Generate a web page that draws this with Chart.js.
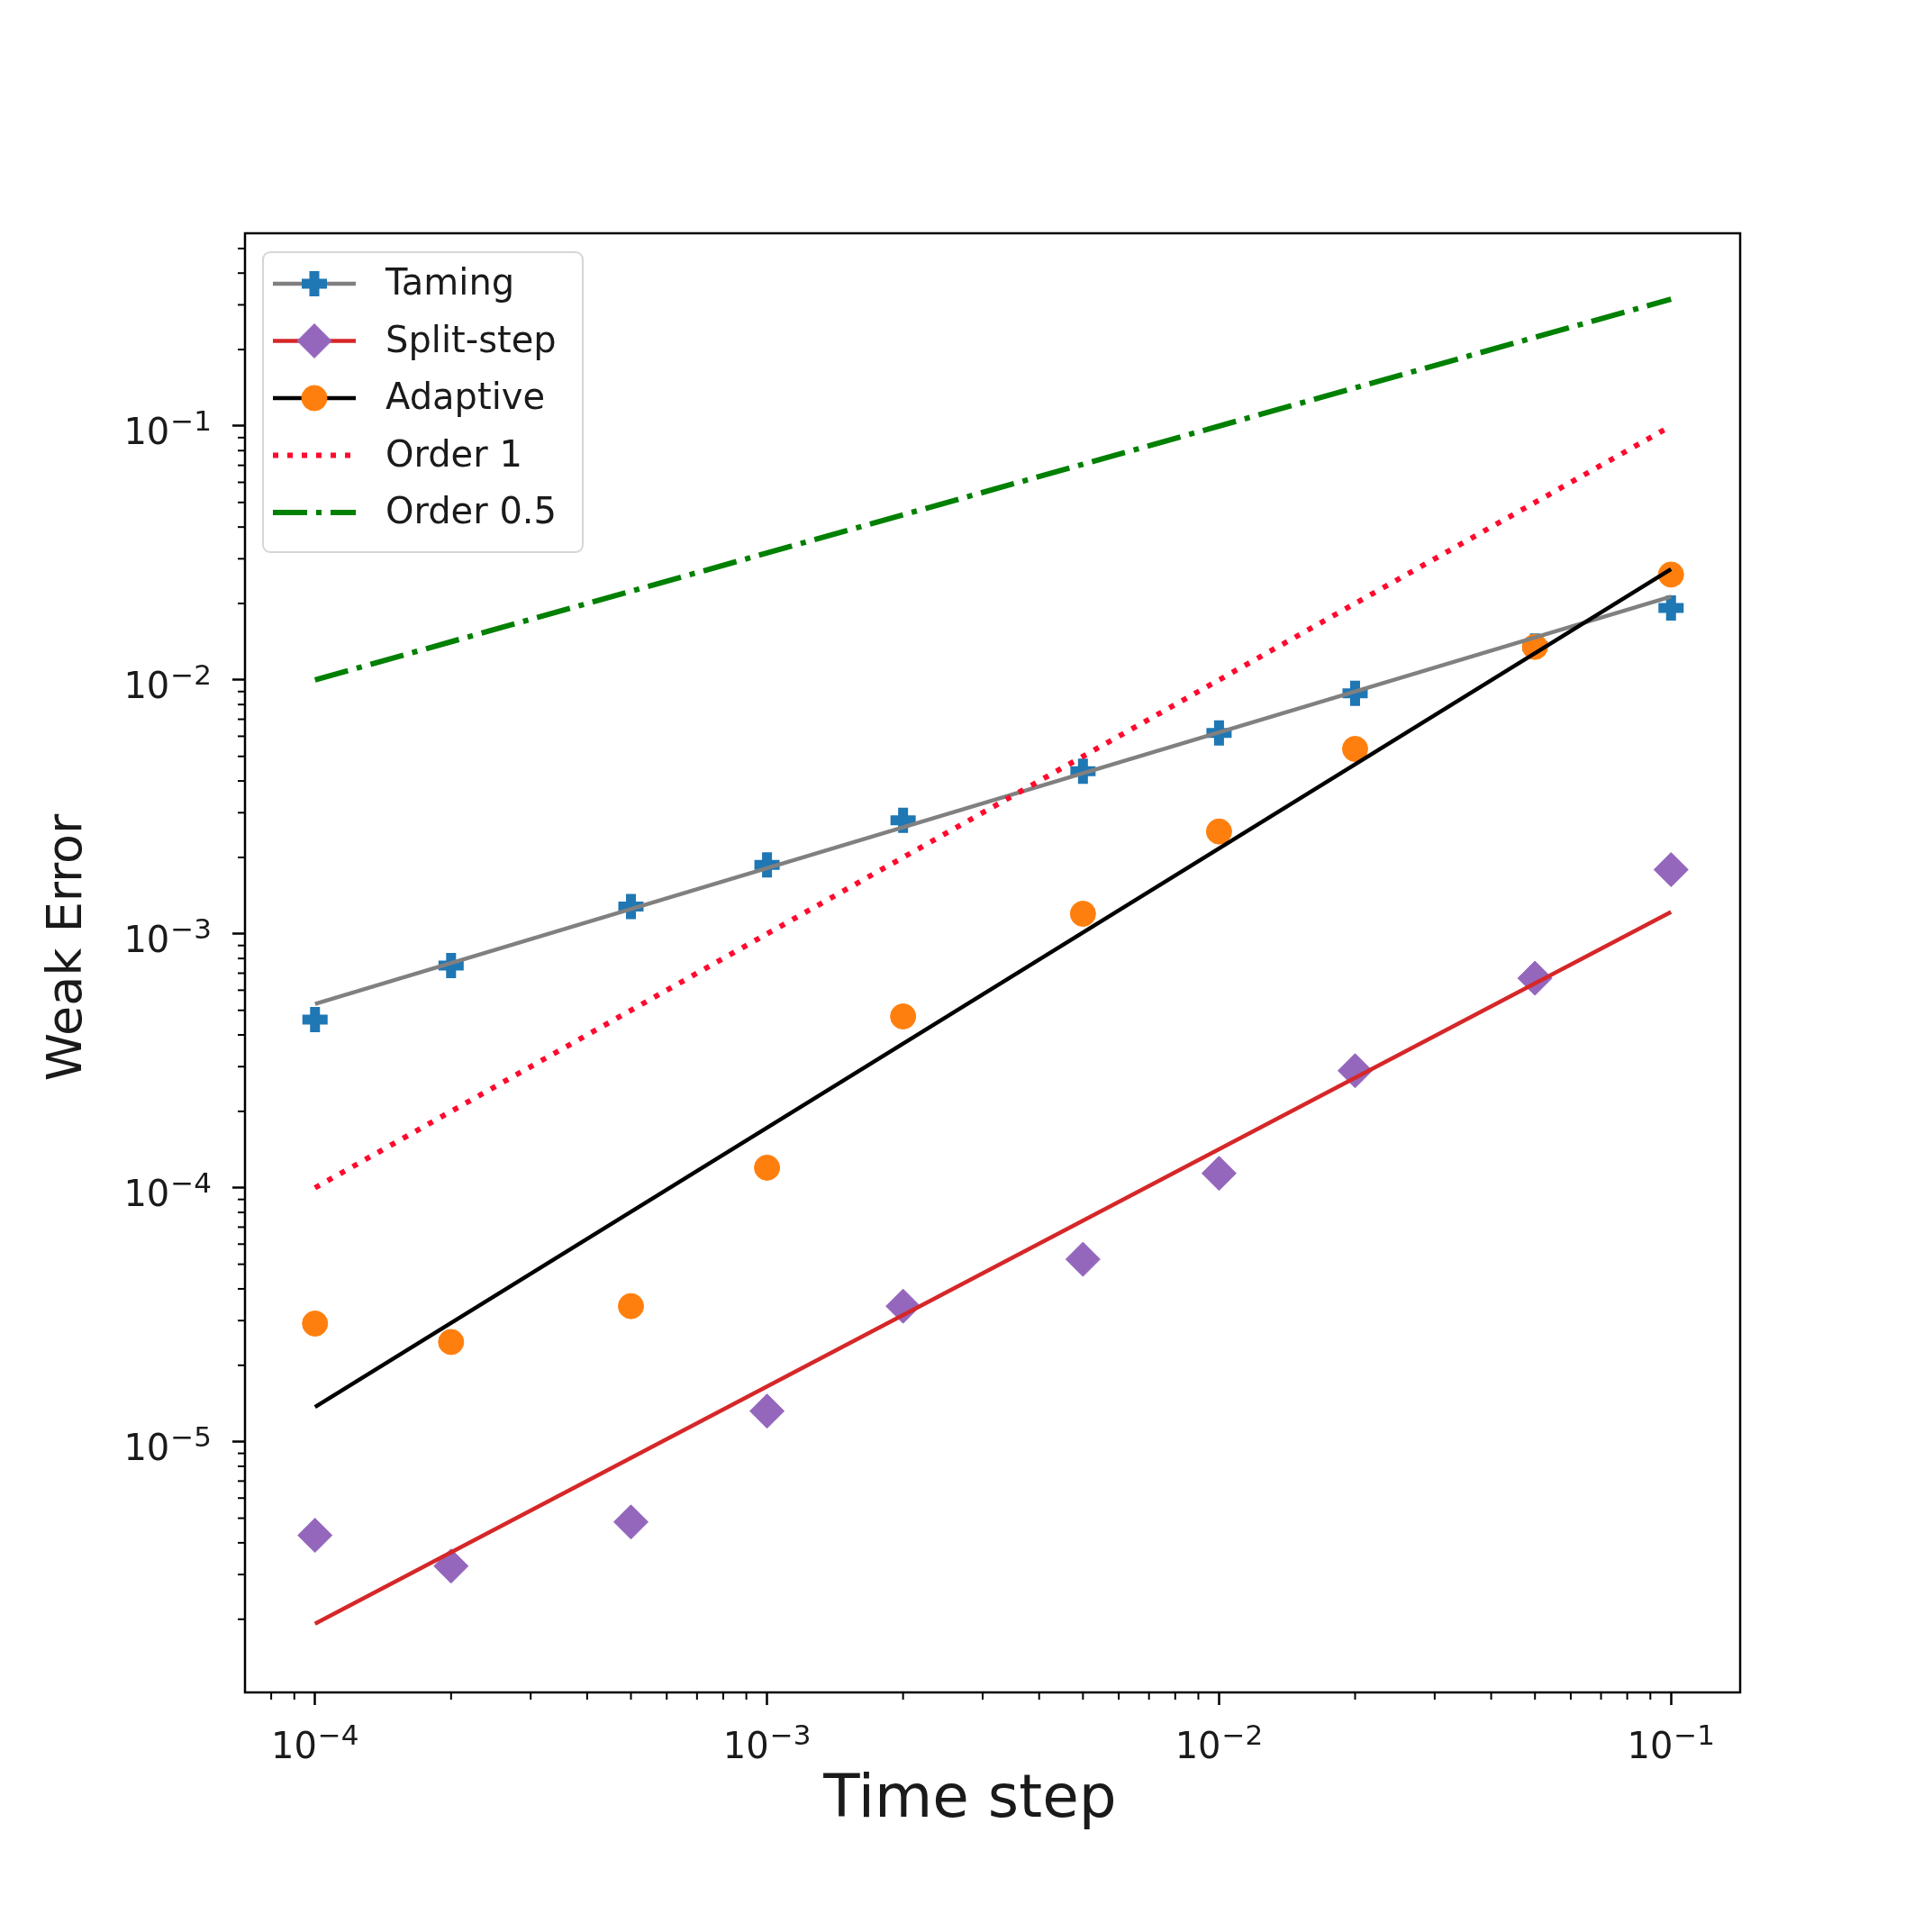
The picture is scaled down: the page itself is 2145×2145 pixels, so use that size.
<!DOCTYPE html>
<html>
<head>
<meta charset="utf-8">
<script src="https://cdn.jsdelivr.net/npm/chart.js@4.4.1/dist/chart.umd.min.js"></script>
<style>
  body { margin: 0; background: #fff; }
  canvas { display: block; }
</style>
</head>
<body>
<canvas id="errChart" width="2145" height="2145"></canvas>
<script>
// data
const timeSteps = [1e-4, 2e-4, 5e-4, 1e-3, 2e-3, 5e-3, 1e-2, 2e-2, 5e-2, 1e-1];
const tamingErr = [4.6e-4, 7.5e-4, 1.28e-3, 1.87e-3, 2.8e-3, 4.37e-3, 6.18e-3, 8.85e-3, 1.36e-2, 1.92e-2];
const splitErr = [4.28e-6, 3.24e-6, 4.83e-6, 1.32e-5, 3.42e-5, 5.23e-5, 1.14e-4, 2.89e-4, 6.69e-4, 1.79e-3];
const adaptiveErr = [2.92e-5, 2.47e-5, 3.42e-5, 1.2e-4, 4.73e-4, 1.2e-3, 2.53e-3, 5.35e-3, 1.35e-2, 2.6e-2];

// fitted / reference lines (end points)
const lineX = [1e-4, 1e-1];
const tamingFit = [5.3e-4, 2.13e-2];
const splitFit = [1.92e-6, 1.22e-3];
const adaptiveFit = [1.37e-5, 2.73e-2];
const order1 = [1e-4, 1e-1];
const order05 = [1e-2, 3.16e-1];

const seriesNames = ['Taming', 'Split-step', 'Adaptive', 'Order 1', 'Order 0.5'];
const xTitle = 'Time step';
const yTitle = 'Weak Error';

const xRange = [7.2e-5, 0.1422];
const yRange = [1.03e-6, 0.574];

const pts = (xs, ys) => xs.map((x, i) => ({ x: x, y: ys[i] }));
const isDecade = v => Math.abs(Math.log10(v) - Math.round(Math.log10(v))) < 1e-6;

// log ticks at 1..9 x 10^n inside the range
function logTicks(min, max) {
  const out = [];
  for (let e = Math.floor(Math.log10(min)); e <= Math.ceil(Math.log10(max)); e++) {
    for (let m = 1; m <= 9; m++) {
      const v = Number((m * Math.pow(10, e)).toPrecision(6));
      if (v >= min && v <= max) out.push({ value: v });
    }
  }
  return out;
}

const style = {
  taming: { line: '#808080', marker: '#1f77b4', pointStyle: 'cross', radius: 14, bw: 11 },
  split: { line: '#d62728', marker: '#9467bd', pointStyle: 'rectRot', radius: 19, bw: 1 },
  adaptive: { line: '#000000', marker: '#ff7f0e', pointStyle: 'circle', radius: 14, bw: 1 },
  order1: { line: '#ff0a2e', dash: [6, 10] },
  order05: { line: '#008000', dash: [38, 10, 6, 10] }
};

const lineSet = (label, ys, s, xs) => ({
  label: label,
  data: pts(xs || lineX, ys),
  borderColor: s.line,
  borderWidth: s.dash ? 6 : 4.5,
  borderDash: s.dash || [],
  pointRadius: 0,
  showLine: true,
  fill: false
});

const markerSet = (label, ys, s) => ({
  label: label,
  data: pts(timeSteps, ys),
  showLine: false,
  pointStyle: s.pointStyle,
  pointRadius: s.radius,
  pointHoverRadius: s.radius,
  pointBorderWidth: s.bw,
  pointBackgroundColor: s.marker,
  pointBorderColor: s.marker
});

const tickColor = c => (c.tick && isDecade(c.tick.value)) ? '#000' : 'rgba(0,0,0,0)';

// "10" with a raised exponent, like matplotlib's mathtext
function drawPow(ctx, v, x, y, align) {
  const exp = '\u2212' + Math.abs(Math.round(Math.log10(v)));
  ctx.font = '40px "DejaVu Sans"';
  const w1 = ctx.measureText('10').width;
  ctx.font = '31px "DejaVu Sans"';
  const w2 = ctx.measureText(exp).width;
  const total = w1 + 1 + w2;
  const start = align === 'right' ? x - total : x - total / 2;
  ctx.textAlign = 'left';
  ctx.textBaseline = 'alphabetic';
  ctx.font = '40px "DejaVu Sans"';
  ctx.fillText('10', start, y);
  ctx.font = '31px "DejaVu Sans"';
  ctx.fillText(exp, start + w1 + 1, y - 15);
}

// frame, minor ticks, tick labels, axis titles and the line+marker legend
const extras = {
  id: 'extras',
  afterDraw(chart) {
    const { ctx, chartArea: a, scales } = chart;
    ctx.save();
    ctx.strokeStyle = '#000';
    ctx.lineWidth = 2;
    ctx.setLineDash([]);
    scales.x.ticks.forEach(t => {
      if (isDecade(t.value)) return;
      const px = scales.x.getPixelForValue(t.value);
      ctx.beginPath(); ctx.moveTo(px, a.bottom); ctx.lineTo(px, a.bottom + 8); ctx.stroke();
    });
    scales.y.ticks.forEach(t => {
      if (isDecade(t.value)) return;
      const py = scales.y.getPixelForValue(t.value);
      ctx.beginPath(); ctx.moveTo(a.left - 8, py); ctx.lineTo(a.left, py); ctx.stroke();
    });
    ctx.lineWidth = 2.5;
    ctx.strokeRect(a.left, a.top, a.right - a.left, a.bottom - a.top);

    ctx.fillStyle = '#1a1a1a';
    scales.x.ticks.forEach(t => {
      if (isDecade(t.value)) drawPow(ctx, t.value, scales.x.getPixelForValue(t.value), a.bottom + 73, 'center');
    });
    scales.y.ticks.forEach(t => {
      if (isDecade(t.value)) drawPow(ctx, t.value, a.left - 37, scales.y.getPixelForValue(t.value) + 20, 'right');
    });

    // axis titles
    ctx.textAlign = 'center';
    ctx.textBaseline = 'middle';
    ctx.font = '66px "DejaVu Sans"';
    ctx.fillText(xTitle, 1077, 2000);
    ctx.save();
    ctx.translate(76, 1052);
    ctx.rotate(-Math.PI / 2);
    ctx.font = '54px "DejaVu Sans"';
    ctx.fillText(yTitle, 0, 0);
    ctx.restore();

    // legend box
    const bx = a.left + 20, by = a.top + 21, bw = 355, bh = 333;
    ctx.beginPath();
    ctx.roundRect(bx, by, bw, bh, 8);
    ctx.fillStyle = 'rgba(255,255,255,0.85)';
    ctx.fill();
    ctx.strokeStyle = '#d6d6d6';
    ctx.lineWidth = 2;
    ctx.stroke();

    const items = [style.taming, style.split, style.adaptive, style.order1, style.order05];
    ctx.font = '40px "DejaVu Sans"';
    ctx.textAlign = 'left';
    ctx.textBaseline = 'middle';
    items.forEach((s, i) => {
      const y = by + 35 + i * 63.5;
      ctx.strokeStyle = s.line;
      ctx.lineWidth = s.dash ? 6 : 4.5;
      ctx.setLineDash(s.dash || []);
      ctx.beginPath(); ctx.moveTo(bx + 11, y); ctx.lineTo(bx + 103, y); ctx.stroke();
      ctx.setLineDash([]);
      if (s.pointStyle) {
        ctx.fillStyle = s.marker;
        ctx.strokeStyle = s.marker;
        ctx.lineWidth = s.bw;
        Chart.helpers.drawPoint(ctx, { pointStyle: s.pointStyle, radius: s.radius, borderWidth: s.bw, rotation: 0 }, bx + 57, y);
      }
      ctx.fillStyle = '#1a1a1a';
      ctx.fillText(seriesNames[i], bx + 136, y + 2);
    });
    ctx.restore();
  }
};

Chart.defaults.font.family = '"DejaVu Sans", sans-serif';
Chart.defaults.color = '#1a1a1a';

new Chart(document.getElementById('errChart'), {
  type: 'scatter',
  data: {
    datasets: [
      lineSet(seriesNames[4], order05, style.order05),
      lineSet(seriesNames[3], order1, style.order1),
      lineSet(seriesNames[2], adaptiveFit, style.adaptive),
      lineSet(seriesNames[1], splitFit, style.split),
      lineSet(seriesNames[0], tamingFit, style.taming),
      markerSet(seriesNames[2], adaptiveErr, style.adaptive),
      markerSet(seriesNames[1], splitErr, style.split),
      markerSet(seriesNames[0], tamingErr, style.taming)
    ]
  },
  options: {
    responsive: false,
    devicePixelRatio: 1,
    animation: false,
    layout: { padding: { top: 259, right: 213, left: 0, bottom: 0 } },
    plugins: { legend: { display: false }, tooltip: { enabled: false } },
    scales: {
      x: {
        type: 'logarithmic',
        min: xRange[0],
        max: xRange[1],
        afterBuildTicks: s => { s.ticks = logTicks(xRange[0], xRange[1]); },
        afterFit: s => { s.height = 266; },
        border: { display: false },
        grid: { drawOnChartArea: false, drawTicks: true, tickLength: 14, tickWidth: 2.5, tickColor: tickColor },
        ticks: { display: false, autoSkip: false, maxRotation: 0, minRotation: 0 }
      },
      y: {
        type: 'logarithmic',
        min: yRange[0],
        max: yRange[1],
        afterBuildTicks: s => { s.ticks = logTicks(yRange[0], yRange[1]); },
        afterFit: s => { s.width = 272; },
        border: { display: false },
        grid: { drawOnChartArea: false, drawTicks: true, tickLength: 14, tickWidth: 2.5, tickColor: tickColor },
        ticks: { display: false, autoSkip: false }
      }
    }
  },
  plugins: [extras]
});
</script>
</body>
</html>
